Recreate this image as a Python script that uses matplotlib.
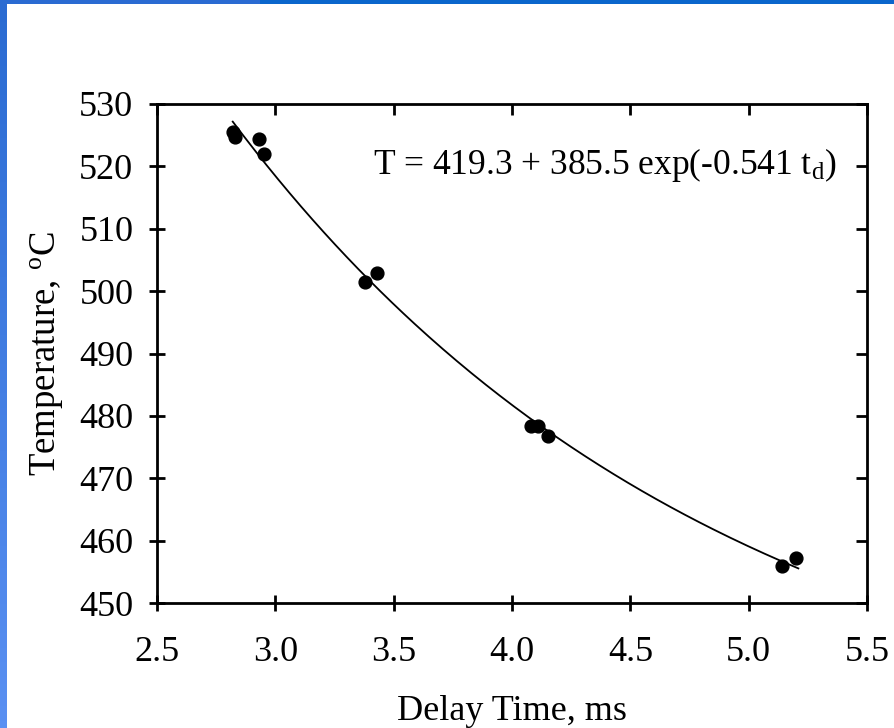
import numpy as np
import matplotlib.pyplot as plt
from matplotlib.colors import LinearSegmentedColormap

plt.rcParams['font.family'] = ['Liberation Serif', 'DejaVu Serif']
plt.rcParams['mathtext.fontset'] = 'custom'
plt.rcParams['mathtext.rm'] = 'Liberation Serif'
plt.rcParams['mathtext.it'] = 'Liberation Serif'

# measured points (delay time in ms, temperature in C)
delay_ms = [2.82, 2.83, 2.93, 2.95, 3.38, 3.43, 4.08, 4.11, 4.15, 5.14, 5.20]
temp_c = [525.5, 524.7, 524.4, 522.0, 501.4, 502.9, 478.4, 478.4, 476.7, 455.9, 457.2]

x_ticks = [2.5, 3.0, 3.5, 4.0, 4.5, 5.0, 5.5]
y_ticks = [450, 460, 470, 480, 490, 500, 510, 520, 530]
eq_label = 'T = 419.3 + 385.5 exp(-0.541 t$_{\\mathrm{d}}$)'

fig = plt.figure(figsize=(8.94, 7.28), dpi=100)

# slide frame: blue strips on the left and top
deco = fig.add_axes([0, 0, 1, 1], zorder=-5)
deco.set_axis_off()
deco.set_xlim(0, 894)
deco.set_ylim(728, 0)
grad = LinearSegmentedColormap.from_list('slide', ['#2a6bd2', '#5a90f2'])
deco.imshow(np.linspace(0, 1, 100).reshape(-1, 1), cmap=grad, aspect='auto',
            extent=[0, 7, 728, 0])
deco.fill_between([0, 894], 0, 4, color='#0a66cc', lw=0)
deco.fill_between([0, 260], 0, 4, color='#2a6bd2', lw=0)

ax = fig.add_axes([157 / 894, 1 - 603 / 728, 710 / 894, 499 / 728])

# least-squares fit of T = a + b exp(-c t) to the points
t = np.array(delay_ms)
T = np.array(temp_c)
best = None
for c in np.linspace(0.2, 1.2, 501):
    A = np.column_stack([np.ones_like(t), np.exp(-c * t)])
    coef, res, *_ = np.linalg.lstsq(A, T, rcond=None)
    err = np.sum((A @ coef - T) ** 2)
    if best is None or err < best[0]:
        best = (err, c, coef)
_, c_fit, (a_fit, b_fit) = best
tt = np.linspace(t.min(), t.max() + 0.01, 200)
ax.plot(tt, a_fit + b_fit * np.exp(-c_fit * tt), color='black', lw=1.3)

ax.scatter(delay_ms, temp_c, s=85, color='black', zorder=3)

ax.set_xlim(2.5, 5.5)
ax.set_ylim(450, 530)
ax.set_xticks(x_ticks)
ax.set_xticklabels([f'{v:.1f}' for v in x_ticks])
ax.set_yticks(y_ticks)
ax.tick_params(axis='both', direction='inout', length=11, width=2, labelsize=26)
ax.tick_params(axis='x', pad=18)
ax.tick_params(axis='y', pad=11.5)
ax.tick_params(top=True, right=True, labeltop=False, labelright=False)
for s in ax.spines.values():
    s.set_linewidth(2)

# top and right ticks point inward only
for tk in ax.xaxis.get_major_ticks():
    tk.tick2line.set_markersize(8)
    tk.tick2line.set_marker(3)
for tk in ax.yaxis.get_major_ticks():
    tk.tick2line.set_markersize(8)
    tk.tick2line.set_marker(0)

ax.set_xlabel('Delay Time, ms', fontsize=26)
ax.xaxis.set_label_coords(0.5, -0.184)
ax.set_ylabel('Temperature, $^{\\mathrm{o}}$C', fontsize=26.5)
ax.yaxis.set_label_coords(-0.128, 0.5)

ax.text(0.304, 0.878, eq_label, transform=ax.transAxes, fontsize=25.5, va='center')

fig.savefig('out.png', dpi=100)
